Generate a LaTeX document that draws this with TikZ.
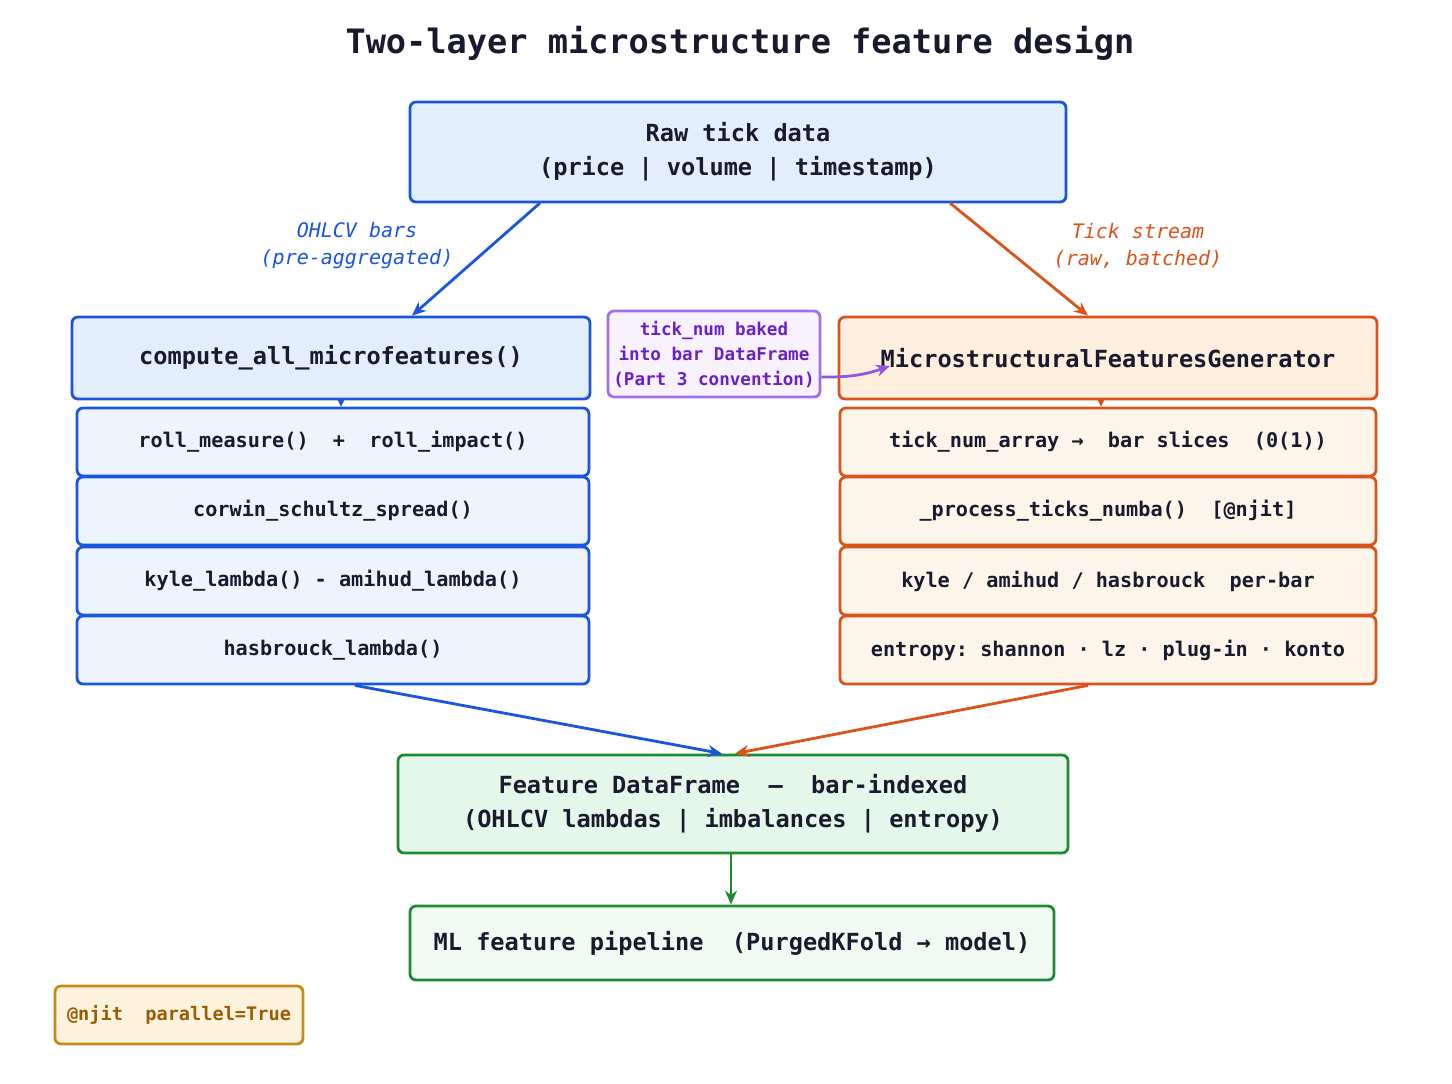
\documentclass[tikz,border=0pt]{standalone}
\usepackage{fontspec}
\setmonofont{DejaVu Sans Mono}
\usetikzlibrary{arrows.meta,positioning}
\definecolor{ink}{HTML}{1A1A2E}
\definecolor{blueline}{HTML}{1A56DB}
\definecolor{bluefill}{HTML}{E3EEFC}
\definecolor{bluerow}{HTML}{EEF4FD}
\definecolor{orline}{HTML}{D9541A}
\definecolor{orfill}{HTML}{FDEEDD}
\definecolor{orrow}{HTML}{FDF4EA}
\definecolor{grline}{HTML}{1E8A34}
\definecolor{grfill}{HTML}{E3F7EA}
\definecolor{grrow}{HTML}{EFFBF2}
\definecolor{puline}{HTML}{A36EE8}
\definecolor{putext}{HTML}{6A1FC9}
\definecolor{pufill}{HTML}{F8F2FE}
\definecolor{goline}{HTML}{C8881A}
\definecolor{gofill}{HTML}{FDF3DC}
\definecolor{gotext}{HTML}{9A5C00}
\tikzset{
  box/.style={draw,line width=1.4pt,rounded corners=3pt,align=center,text=ink,
    font=\ttfamily\bfseries,inner sep=0pt},
  big/.style={font=\ttfamily\bfseries\fontsize{11.8}{17}\selectfont},
  row/.style={font=\ttfamily\bfseries\fontsize{10.1}{13}\selectfont},
  arr/.style={-{Stealth[length=7pt,width=6pt]},line width=1.4pt},
  lbl/.style={font=\ttfamily\itshape\fontsize{10}{13.5}\selectfont,align=center}
}
\begin{document}
\begin{tikzpicture}[x=0.5pt,y=-0.5pt]
  \useasboundingbox[fill=white] (0,0) rectangle (1452,1083);
  \node[font=\ttfamily\bfseries\fontsize{16.8}{20}\selectfont,text=ink] (title) at (740,43) {Two-layer microstructure feature design};
  % top
  \node[box,big,draw=blueline,fill=bluefill,minimum width=328pt,minimum height=50pt] (raw) at (738,152)
    {Raw tick data\\(price | volume | timestamp)};
  % left column
  \node[box,big,draw=blueline,fill=bluefill,minimum width=259pt,minimum height=41pt] (lhead) at (331,358) {compute\_all\_microfeatures()};
  \node[box,row,draw=blueline,fill=bluerow,minimum width=256pt,minimum height=34pt] (l1) at (333,442) {roll\_measure()~~+~~roll\_impact()};
  \node[box,row,draw=blueline,fill=bluerow,minimum width=256pt,minimum height=34pt] (l2) at (333,511) {corwin\_schultz\_spread()};
  \node[box,row,draw=blueline,fill=bluerow,minimum width=256pt,minimum height=34pt] (l3) at (333,581) {kyle\_lambda() - amihud\_lambda()};
  \node[box,row,draw=blueline,fill=bluerow,minimum width=256pt,minimum height=34pt] (l4) at (333,650) {hasbrouck\_lambda()};
  % right column
  \node[box,big,draw=orline,fill=orfill,minimum width=269pt,minimum height=41pt] (rhead) at (1108,358) {MicrostructuralFeaturesGenerator};
  \node[box,row,draw=orline,fill=orrow,minimum width=268pt,minimum height=34pt] (r1) at (1108,442) {tick\_num\_array → ~bar slices~~(0(1))};
  \node[box,row,draw=orline,fill=orrow,minimum width=268pt,minimum height=34pt] (r2) at (1108,511) {\_process\_ticks\_numba()~~[@njit]};
  \node[box,row,draw=orline,fill=orrow,minimum width=268pt,minimum height=34pt] (r3) at (1108,581) {kyle / amihud / hasbrouck~~per-bar};
  \node[box,row,draw=orline,fill=orrow,minimum width=268pt,minimum height=34pt] (r4) at (1108,650) {entropy: shannon · lz · plug-in · konto};
  % note
  \node[box,draw=puline,fill=pufill,text=putext,font=\ttfamily\bfseries\fontsize{8.8}{12.5}\selectfont,
    minimum width=106pt,minimum height=43pt] (note) at (714,354) {tick\_num baked\\into bar DataFrame\\(Part 3 convention)};
  % bottom
  \node[box,big,draw=grline,fill=grfill,minimum width=335pt,minimum height=49pt] (feat) at (733,804)
    {Feature DataFrame~~–~~bar-indexed\\(OHLCV lambdas | imbalances | entropy)};
  \node[box,big,draw=grline,fill=grrow,minimum width=322pt,minimum height=37pt] (ml) at (732,943)
    {ML feature pipeline~~(PurgedKFold → model)};
  \node[box,draw=goline,fill=gofill,text=gotext,font=\ttfamily\bfseries\fontsize{9.3}{12}\selectfont,
    minimum width=124pt,minimum height=29pt] (njit) at (179,1015) {@njit~~parallel=True};
  % connectors
  \coordinate (rawl) at (540,203);
  \coordinate (rawr) at (950,203);
  \draw[arr,blueline] (rawl) -- (lhead.north -| 412,0);
  \draw[arr,orline] (rawr) -- (rhead.north -| 1088,0);
  \node[lbl,text=blueline] (lblb) at (357,246) {OHLCV bars\\(pre-aggregated)};
  \node[lbl,text=orline] (lblt) at (1138,246) {Tick stream\\(raw, batched)};
  \draw[-{Stealth[length=4pt,width=4pt]},line width=1pt,blueline] (lhead.south -| 341,0) -- (l1.north -| 341,0);
  \draw[-{Stealth[length=4pt,width=4pt]},line width=1pt,orline] (rhead.south -| 1101,0) -- (r1.north -| 1101,0);
  \draw[arr,puline!70!putext] (note.east |- 0,377) to[bend right=10] (890,366);
  \draw[arr,blueline] (l4.south -| 355,0) -- (feat.north -| 722,0);
  \draw[arr,orline] (r4.south -| 1088,0) -- (feat.north -| 735,0);
  \draw[arr,grline] (feat.south -| 731,0) -- (ml.north -| 731,0);
\end{tikzpicture}
\end{document}
